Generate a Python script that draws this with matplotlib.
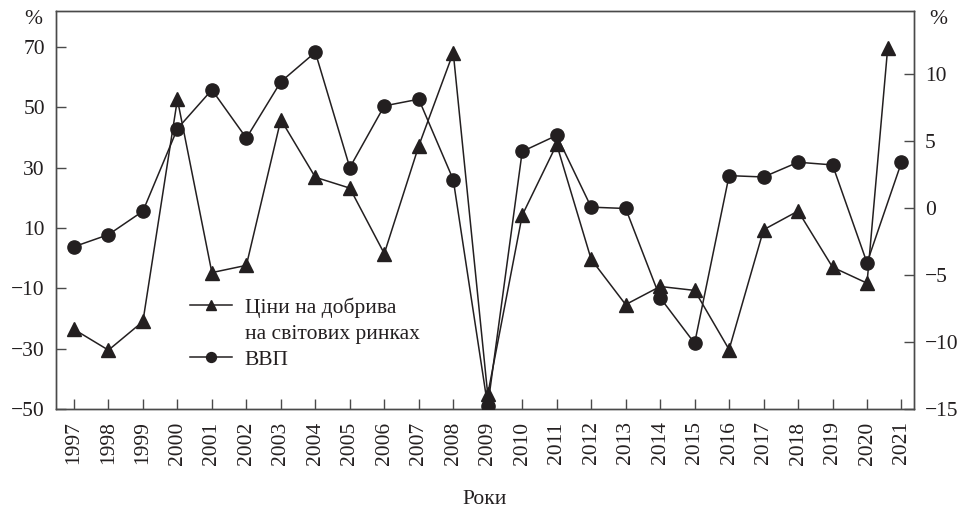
import matplotlib
matplotlib.use("Agg")
import matplotlib.pyplot as plt
from matplotlib.lines import Line2D

plt.rcParams["font.family"] = ["Liberation Serif", "DejaVu Serif"]

# ── Daten ────────────────────────────────────────────────────────────────
years = list(range(1997, 2022))
year_labels = [str(y) for y in years]

# Ціни на добрива (ліва вісь), останній маркер стоїть трохи лівіше 2021
fert_x = list(range(1997, 2021)) + [2020.6]
fert_vals = [-23.6, -30.5, -21.0, 52.6, -4.8, -2.4, 45.9, 26.8, 23.2, 1.5,
             37.2, 68.1, -45.2, 14.2, 37.7, -0.4, -15.4, -9.4, -10.7, -30.3,
             9.4, 15.6, -3.0, -8.3, 69.7]

# ВВП (права вісь)
gdp_vals = [-2.9, -2.0, -0.25, 5.9, 8.8, 5.2, 9.4, 11.6, 3.0, 7.6,
            8.1, 2.1, -14.8, 4.2, 5.4, 0.05, -0.05, -6.7, -10.1, 2.4,
            2.3, 3.4, 3.2, -4.1, 3.4]

left_ticks = [-50, -30, -10, 10, 30, 50, 70]
right_ticks = [-15, -10, -5, 0, 5, 10]

INK = "#231f20"
SPINE = "#4a4a4a"
FS = 15.5

fig = plt.figure(figsize=(9.61, 5.09), dpi=100, facecolor="white")
ax = fig.add_axes([0.0583, 0.1965, 0.8927, 0.7825])
ax2 = ax.twinx()

l1, = ax.plot(fert_x, fert_vals, color=INK, linewidth=1.1, marker="^",
              markersize=9.5, zorder=3)
l2, = ax2.plot(years, gdp_vals, color=INK, linewidth=1.1, marker="o",
               markersize=9.5, zorder=3)

ax.set_xlim(1996.48, 2021.36)
ax.set_ylim(-50, 82)
ax2.set_ylim(-15, 14.7)

ax.set_xticks(years)
ax.set_xticklabels(year_labels, rotation=90)
ax.set_yticks(left_ticks)
ax2.set_yticks(right_ticks)

for a in (ax, ax2):
    for s in a.spines.values():
        s.set_color(SPINE)
        s.set_linewidth(1.0)
    a.tick_params(direction="in", length=7, width=1.0, color=SPINE,
                  labelsize=FS, labelcolor=INK, pad=8)
ax.tick_params(axis="x", pad=9)

ax.set_xlabel("Роки", fontsize=FS, color=INK, labelpad=18)
fig.text(33 / 961, 1 - 20 / 509, "%", fontsize=FS, color=INK,
         ha="center", va="center")
fig.text(938 / 961, 1 - 20 / 509, "%", fontsize=FS, color=INK,
         ha="center", va="center")

# Legende: zweite Zeile als leerer Eintrag
blank = Line2D([], [], color="none")
leg = ax2.legend([l1, blank, l2],
                 ["Ціни на добрива", "на світових ринках", "ВВП"],
                 loc="upper left", bbox_to_anchor=(190 / 961, 1 - 297 / 509),
                 bbox_transform=fig.transFigure, frameon=False,
                 fontsize=FS, handlelength=1.95, handletextpad=0.6,
                 labelspacing=0.28, markerscale=0.75, borderpad=0,
                 borderaxespad=0)
for t in leg.get_texts():
    t.set_color(INK)

fig.savefig("out.png", dpi=100, facecolor="white")
